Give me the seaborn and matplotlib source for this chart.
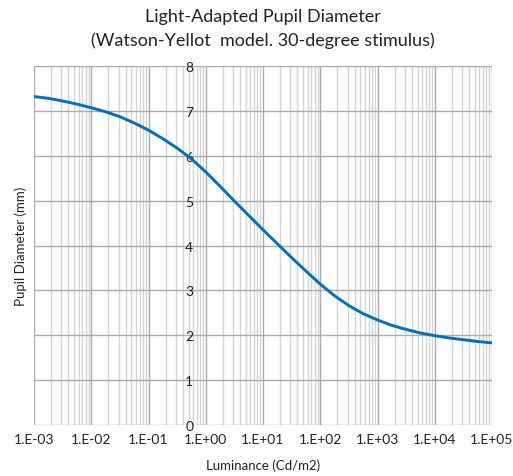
import numpy as np
import pandas as pd
import matplotlib
matplotlib.use("Agg")
import matplotlib.pyplot as plt
import matplotlib.ticker as mticker
import seaborn as sns

# values, every quarter decade (log10 luminance -> pupil diameter)
log_lum = [-3, -2.75, -2.5, -2.25, -2, -1.75, -1.5, -1.25, -1, -0.75, -0.5, -0.25,
           0, 0.25, 0.5, 0.75, 1, 1.25, 1.5, 1.75, 2, 2.25, 2.5, 2.75,
           3, 3.25, 3.5, 3.75, 4, 4.25, 4.5, 4.75, 5]
diameter = [7.32, 7.28, 7.22, 7.15, 7.07, 6.98, 6.87, 6.73, 6.57, 6.38, 6.17, 5.93,
            5.64, 5.32, 4.99, 4.67, 4.35, 4.04, 3.73, 3.43, 3.14, 2.88, 2.66, 2.48,
            2.34, 2.22, 2.13, 2.05, 1.99, 1.94, 1.90, 1.86, 1.83]
x_decades = [-3, -2, -1, 0, 1, 2, 3, 4, 5]
x_labels = ["1.E-03", "1.E-02", "1.E-01", "1.E+00", "1.E+01", "1.E+02",
            "1.E+03", "1.E+04", "1.E+05"]
y_ticks = [0, 1, 2, 3, 4, 5, 6, 7, 8]

df = pd.DataFrame({"lum": 10.0 ** np.array(log_lum), "d": diameter})

sns.set_style("white")
plt.rcParams["font.family"] = ["Lato", "DejaVu Sans"]

fig = plt.figure(figsize=(5.13, 4.77), dpi=100)
ax = fig.add_axes([34 / 513, 1 - 426 / 477, 458 / 513, 359 / 477])

sns.lineplot(data=df, x="lum", y="d", ax=ax, color="#0070C0", linewidth=2.1)

ax.set_xscale("log")
ax.set_xlim(1e-3, 1e5)
ax.set_ylim(0, 8)
major = [10.0 ** d for d in x_decades]
minor = [m * 10.0 ** d for d in x_decades[:-1] for m in range(2, 10)]
ax.set_xticks(major)
ax.set_xticklabels(x_labels)
ax.set_xticks(minor, minor=True)
ax.xaxis.set_minor_formatter(mticker.NullFormatter())
ax.set_yticks(y_ticks)

ax.grid(True, which="major", axis="both", color="#ababab", linewidth=1.0)
ax.grid(True, which="minor", axis="x", color="#d4d4d4", linewidth=1.0)
ax.set_axisbelow(True)

for s in ["top", "right", "bottom"]:
    ax.spines[s].set_visible(False)
# vertical axis crosses at 1.E+00 like the reference
ax.spines["left"].set_position(("data", 1))
ax.spines["left"].set_visible(False)

ax.tick_params(axis="both", which="both", length=0, labelsize=10, colors="#222222")
ax.tick_params(axis="x", pad=6)
ax.tick_params(axis="y", pad=9)

ax.set_xlabel("")
ax.set_ylabel("")
fig.text(263 / 513, 1 - 466 / 477, "Luminance (Cd/m2)", ha="center", va="center",
         fontsize=9.5, color="#222222")
fig.text(21 / 513, 1 - 246 / 477, "Pupil Diameter (mm)", ha="center", va="center",
         rotation=90, fontsize=9.5, color="#222222")
fig.text(263 / 513, 1 - 17 / 477, "Light-Adapted Pupil Diameter", ha="center",
         va="center", fontsize=13, color="#222222")
fig.text(263 / 513, 1 - 41 / 477, "(Watson-Yellot  model. 30-degree stimulus)",
         ha="center", va="center", fontsize=13, color="#222222")

fig.savefig("out.png", dpi=100)
